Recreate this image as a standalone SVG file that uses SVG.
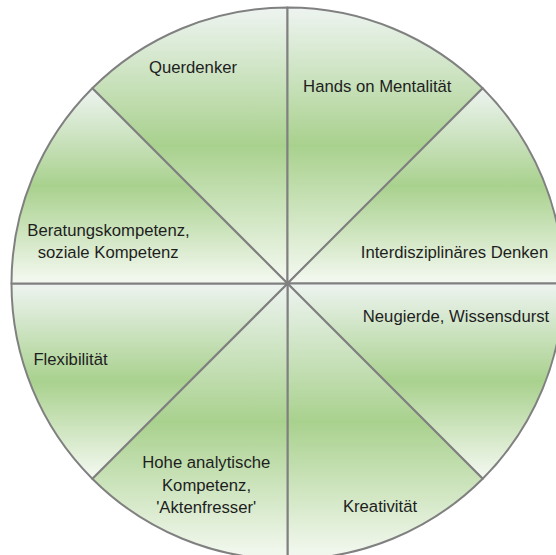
<svg xmlns="http://www.w3.org/2000/svg" width="556" height="555" viewBox="0 0 556 555">
  <defs>
    <linearGradient id="g" x1="0" y1="0" x2="0" y2="1">
      <stop offset="0" stop-color="#eef4f1"/>
      <stop offset="0.5" stop-color="#a9d18e"/>
      <stop offset="1" stop-color="#f5f9f2"/>
    </linearGradient>
  </defs>
  <style>
    .sec { fill: url(#g); stroke: #808080; stroke-width: 2; stroke-linejoin: round; }
    .lbl { font-family: "Liberation Sans", Arial, sans-serif; font-size: 16.7px; fill: #1e1e1e; text-anchor: middle; }
  </style>
  <rect width="556" height="555" fill="#ffffff"/>
  <g id="querdenker">
    <path class="sec" d="M287.5 283.5 L92.3 88.3 A276 276 0 0 1 287.5 7.5 Z"/>
    <text class="lbl" x="193" y="73">Querdenker</text>
  </g>
  <g id="hands-on">
    <path class="sec" d="M287.5 283.5 L287.5 7.5 A276 276 0 0 1 482.7 88.3 Z"/>
    <text class="lbl" x="377.3" y="92">Hands on Mentalität</text>
  </g>
  <g id="interdisziplinaer">
    <path class="sec" d="M287.5 283.5 L482.7 88.3 A276 276 0 0 1 563.5 283.5 Z"/>
    <text class="lbl" x="454.5" y="257.5">Interdisziplinäres Denken</text>
  </g>
  <g id="neugierde">
    <path class="sec" d="M287.5 283.5 L563.5 283.5 A276 276 0 0 1 482.7 478.7 Z"/>
    <text class="lbl" x="456" y="321.5">Neugierde, Wissensdurst</text>
  </g>
  <g id="kreativitaet">
    <path class="sec" d="M287.5 283.5 L482.7 478.7 A276 276 0 0 1 287.5 559.5 Z"/>
    <text class="lbl" x="380" y="511.5">Kreativität</text>
  </g>
  <g id="analytisch">
    <path class="sec" d="M287.5 283.5 L287.5 559.5 A276 276 0 0 1 92.3 478.7 Z"/>
    <text class="lbl" x="206.3" y="468">Hohe analytische</text>
    <text class="lbl" x="206.5" y="490.5">Kompetenz,</text>
    <text class="lbl" x="206.2" y="512.5">'Aktenfresser'</text>
  </g>
  <g id="flexibilitaet">
    <path class="sec" d="M287.5 283.5 L92.3 478.7 A276 276 0 0 1 11.5 283.5 Z"/>
    <text class="lbl" x="70.5" y="365">Flexibilität</text>
  </g>
  <g id="beratung">
    <path class="sec" d="M287.5 283.5 L11.5 283.5 A276 276 0 0 1 92.3 88.3 Z"/>
    <text class="lbl" x="108.5" y="235.5">Beratungskompetenz,</text>
    <text class="lbl" x="108.2" y="257.5">soziale Kompetenz</text>
  </g>
  <g id="connectors"/>
</svg>
